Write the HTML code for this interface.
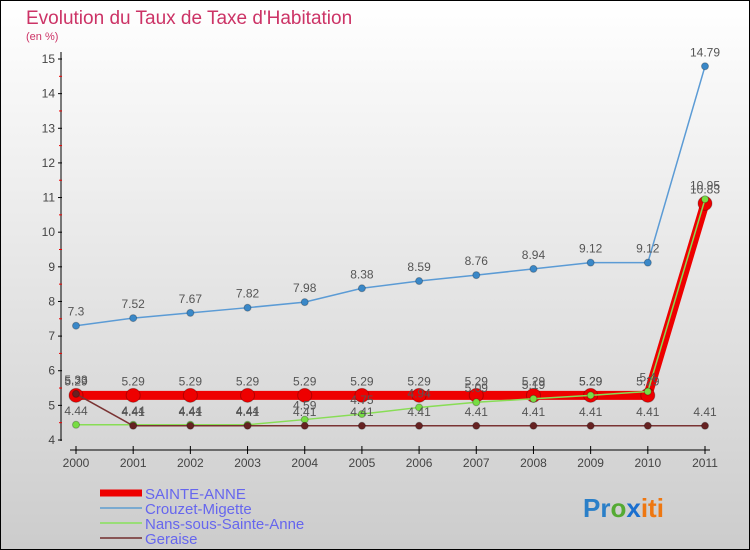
<!DOCTYPE html>
<html><head><meta charset="utf-8"><style>
body{margin:0;width:750px;height:550px;overflow:hidden;font-family:"Liberation Sans",sans-serif}
svg{display:block}
</style></head><body>
<svg width="750" height="550">
<defs><linearGradient id="bg" x1="0" y1="0" x2="0" y2="1">
<stop offset="0" stop-color="#ffffff"/><stop offset="0.85" stop-color="#d4d4d4"/><stop offset="1" stop-color="#cccccc"/></linearGradient></defs>
<rect x="0.5" y="0.5" width="749" height="549" fill="url(#bg)" stroke="#000"/>
<text x="26" y="24" font-size="19" fill="#cc3366">Evolution du Taux de Taxe d'Habitation</text>
<text x="26" y="40" font-size="11" fill="#cc3366">(en %)</text>
<g id="axes"></g>
<g id="series"></g>
<g id="legend"></g>
<text x="583" y="517" font-size="26" font-weight="bold"><tspan fill="#2a7fc8">Pr</tspan><tspan fill="#55aa33">o</tspan><tspan fill="#1a6fcf">x</tspan><tspan fill="#ee7711">iti</tspan></text>
</svg>
<script>
const years=[2000,2001,2002,2003,2004,2005,2006,2007,2008,2009,2010,2011];
const yTicks=[4,5,6,7,8,9,10,11,12,13,14,15];
const sainteAnne=[5.29,5.29,5.29,5.29,5.29,5.29,5.29,5.29,5.29,5.29,5.29,10.83];
const crouzet=[7.3,7.52,7.67,7.82,7.98,8.38,8.59,8.76,8.94,9.12,9.12,14.79];
const nans=[4.44,4.44,4.44,4.44,4.59,4.75,4.94,5.09,5.19,5.29,5.4,10.95];
const geraise=[5.33,4.41,4.41,4.41,4.41,4.41,4.41,4.41,4.41,4.41,4.41,4.41];
const NS="http://www.w3.org/2000/svg";
const x=i=>76+i*(705-76)/11;
const y=v=>440-(v-4)*(440-59)/11;
function mk(tag,attrs,parent,txt){const e=document.createElementNS(NS,tag);for(const k in attrs)e.setAttribute(k,attrs[k]);if(txt!==undefined)e.textContent=txt;parent.appendChild(e);return e;}
const ax=document.getElementById('axes');
let l=mk('line',{x1:61,y1:52,x2:61,y2:441,stroke:'#000'},ax);


l=mk('line',{x1:70,y1:450,x2:710,y2:450,stroke:'#000'},ax);


yTicks.forEach(v=>{
 mk('line',{x1:58,y1:y(v),x2:62,y2:y(v),stroke:'#000'},ax);
 if(v<15)mk('line',{x1:59,y1:y(v+0.5),x2:62,y2:y(v+0.5),stroke:'#e00'},ax);
 const t=mk('text',{x:55,y:y(v)+4,'font-size':12,fill:'#444','text-anchor':'end'},ax,String(v));
 
 
});
years.forEach((yr,i)=>{
 mk('line',{x1:x(i),y1:446,x2:x(i),y2:454,stroke:'#000'},ax);
 const t=mk('text',{x:x(i),y:467,'font-size':12,fill:'#444','text-anchor':'middle'},ax,String(yr));
 
 
});
const sg=document.getElementById('series');
function series(vals,color,w,r,name,dot){
 const g=mk('g',{},sg);
 
 
 const p=mk('polyline',{points:vals.map((v,i)=>x(i)+','+y(v)).join(' '),fill:'none',stroke:color,'stroke-width':w},g);
 
 
 vals.forEach((v,i)=>{
  const c=mk('circle',{cx:x(i),cy:y(v),r:r,fill:dot,stroke:'rgba(0,0,0,0.25)'},g);
  
  
  const t=mk('text',{x:x(i),y:y(v)-10,'font-size':12,fill:'#555','text-anchor':'middle'},g,String(v));
  
  
 });
}
series(crouzet,'#5b9bd5',1.5,3.5,'crouzet-migette','#3a88c8');
series(sainteAnne,'#ee0000',9,7,'sainte-anne','#ee0000');
series(nans,'#88dd55',1.5,3.5,'nans-sous-sainte-anne','#77dd44');
series(geraise,'#7a3333',1.5,3.5,'geraise','#662222');
const lg=document.getElementById('legend');
const leg=[['SAINTE-ANNE','#ee0000',7],['Crouzet-Migette','#7aaad0',2],['Nans-sous-Sainte-Anne','#99dd77',2],['Geraise','#885555',2]];
leg.forEach((e,i)=>{
 const g=mk('g',{},lg);
 
 
 const yy=493+i*15;
 mk('line',{x1:100,y1:yy,x2:142,y2:yy,stroke:e[1],'stroke-width':e[2]},g);
 mk('text',{x:145,y:yy+6,'font-size':15,fill:'#6666ee'},g,e[0]);
});
</script>
</body></html>
